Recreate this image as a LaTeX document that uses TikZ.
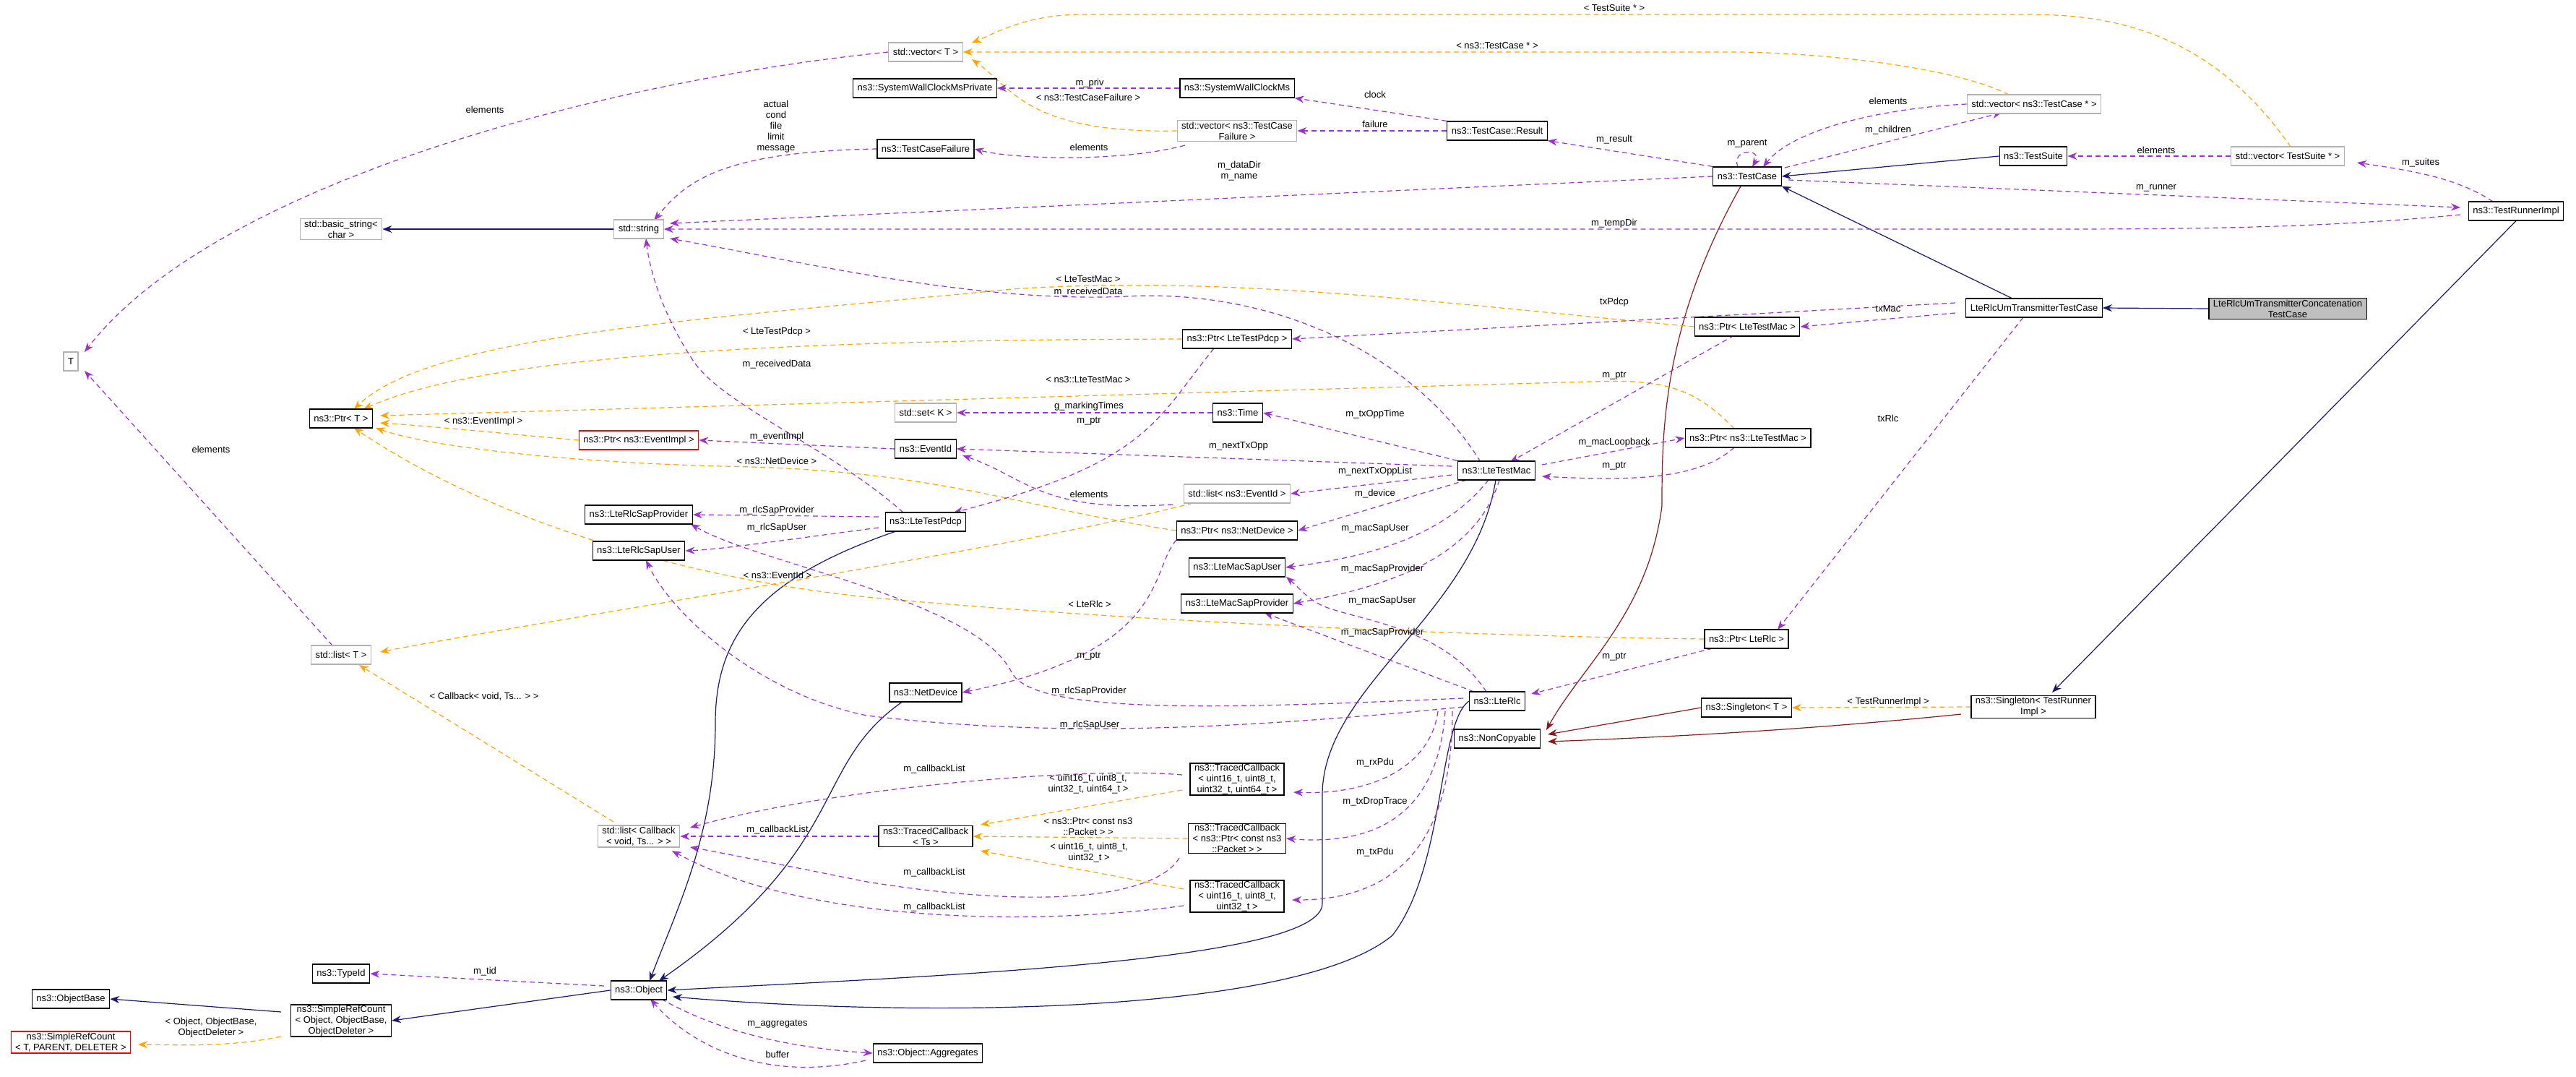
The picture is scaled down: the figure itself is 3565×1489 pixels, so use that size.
\documentclass[tikz,border=0pt]{standalone}
\usepackage{fontspec}
\setmainfont{Liberation Sans}
\usetikzlibrary{arrows.meta}
\pgfdeclarelayer{bg}
\pgfsetlayers{bg,main}
\definecolor{pu}{HTML}{9A32CD}
\definecolor{og}{HTML}{FFA500}
\definecolor{nv}{HTML}{191970}
\definecolor{dr}{HTML}{8B1A1A}
\tikzset{
 box/.style={draw=black,fill=white,line width=1.2pt,font=\fontsize{13}{15}\selectfont,inner xsep=6pt,inner ysep=2pt,minimum height=26pt,align=center},
 gbox/.style={box,draw=black!30},
 rbox/.style={box,draw=red},
 lbl/.style={font=\fontsize{13}{15}\selectfont,align=center,inner sep=1pt},
 usee/.style={draw=pu,dash pattern=on 7pt off 5pt,line width=1.2pt,-{Stealth[length=13pt,width=10pt]}},
 tmpl/.style={draw=og,dash pattern=on 7pt off 5pt,line width=1.2pt,-{Stealth[length=13pt,width=10pt]}},
 inh/.style={draw=nv,line width=1.2pt,-{Stealth[length=13pt,width=10pt]}},
 drh/.style={draw=dr,line width=1.2pt,-{Stealth[length=13pt,width=10pt]}},
}
\begin{document}
\begin{tikzpicture}[x=1pt,y=-1pt]
\useasboundingbox (0,0) rectangle (3565,1489);
% nodes
\node[gbox] (T) at (98,500) {T};
\node[gbox] (bstr) at (472,317) {std::basic\_string\textless\\char \textgreater};
\node[gbox] (str) at (884,317) {std::string};
\node[box] (ptrT) at (472,579) {ns3::Ptr\textless{} T \textgreater};
\node[rbox] (ptrEI) at (884,609) {ns3::Ptr\textless{} ns3::EventImpl \textgreater};
\node[box] (rsp) at (884,712) {ns3::LteRlcSapProvider};
\node[box] (rsu) at (884,762) {ns3::LteRlcSapUser};
\node[gbox] (listT) at (472,906) {std::list\textless{} T \textgreater};
\node[gbox] (listCB) at (884,1157) {std::list\textless{} Callback\\\textless{} void, Ts... \textgreater{} \textgreater};
\node[box] (tid) at (472,1347) {ns3::TypeId};
\node[box] (obj) at (884,1370) {ns3::Object};
\node[box] (ob) at (98,1382) {ns3::ObjectBase};
\node[box,inner ysep=1pt] (src) at (472,1412) {ns3::SimpleRefCount\\\textless{} Object, ObjectBase,\\ObjectDeleter \textgreater};
\node[rbox] (srcT) at (98,1442) {ns3::SimpleRefCount\\\textless{} T, PARENT, DELETER \textgreater};
\node[gbox] (vecT) at (1281,72) {std::vector\textless{} T \textgreater};
\node[box] (swcp) at (1280,122) {ns3::SystemWallClockMsPrivate};
\node[box] (swc) at (1712,122) {ns3::SystemWallClockMs};
\node[gbox] (vtcf) at (1712,181) {std::vector\textless{} ns3::TestCase\\Failure \textgreater};
\node[box] (tcf) at (1281,206) {ns3::TestCaseFailure};
\node[box] (res) at (2072,181) {ns3::TestCase::Result};
\node[box] (tc) at (2418,244) {ns3::TestCase};
\node[box] (ppdcp) at (1712,469) {ns3::Ptr\textless{} LteTestPdcp \textgreater};
\node[gbox] (setK) at (1281,571) {std::set\textless{} K \textgreater};
\node[box] (time) at (1713,571) {ns3::Time};
\node[box] (eid) at (1281,621) {ns3::EventId};
\node[box] (mac) at (2071,651) {ns3::LteTestMac};
\node[gbox] (leid) at (1712,683) {std::list\textless{} ns3::EventId \textgreater};
\node[box] (pdcp) at (1281,722) {ns3::LteTestPdcp};
\node[box] (pnd) at (1712,734) {ns3::Ptr\textless{} ns3::NetDevice \textgreater};
\node[box] (pmac) at (2418,452) {ns3::Ptr\textless{} LteTestMac \textgreater};
\node[box] (pmac2) at (2419,606) {ns3::Ptr\textless{} ns3::LteTestMac \textgreater};
\node[gbox] (vtc) at (2815,144) {std::vector\textless{} ns3::TestCase * \textgreater};
\node[box] (ts) at (2814,216) {ns3::TestSuite};
\node[gbox] (vts) at (3166,216) {std::vector\textless{} TestSuite * \textgreater};
\node[box] (tri) at (3482,292) {ns3::TestRunnerImpl};
\node[box] (lttc) at (2815,426) {LteRlcUmTransmitterTestCase};
\node[box,fill=black!25] (conc) at (3166,427) {LteRlcUmTransmitterConcatenation\\TestCase};
\node[box] (msu) at (1712,785) {ns3::LteMacSapUser};
\node[box] (msp) at (1712,835) {ns3::LteMacSapProvider};
\node[box] (nd) at (1281,958) {ns3::NetDevice};
\node[box] (rlc) at (2072,970) {ns3::LteRlc};
\node[box] (nc) at (2072,1022) {ns3::NonCopyable};
\node[box] (prlc) at (2417,884) {ns3::Ptr\textless{} LteRlc \textgreater};
\node[box] (sgT) at (2417,979) {ns3::Singleton\textless{} T \textgreater};
\node[box] (sgR) at (2814,978) {ns3::Singleton\textless{} TestRunner\\Impl \textgreater};
\node[box,inner ysep=1pt] (tc64) at (1712,1078) {ns3::TracedCallback\\\textless{} uint16\_t, uint8\_t,\\uint32\_t, uint64\_t \textgreater};
\node[box] (tcts) at (1281,1157) {ns3::TracedCallback\\\textless{} Ts \textgreater};
\node[box,inner ysep=1pt] (tcpk) at (1712,1160) {ns3::TracedCallback\\\textless{} ns3::Ptr\textless{} const ns3\\::Packet \textgreater{} \textgreater};
\node[box,inner ysep=1pt] (tc32) at (1712,1240) {ns3::TracedCallback\\\textless{} uint16\_t, uint8\_t,\\uint32\_t \textgreater};
\node[box] (agg) at (1284,1457) {ns3::Object::Aggregates};
\begin{pgfonlayer}{bg}
% inheritance
\draw[inh] (str.west) -- (bstr.east);
\draw[inh] (ts.west) -- (tc.east);
\draw[inh] (2785,413) -- (tc.south east);
\draw[inh] (conc.west) -- (lttc.east);
\draw[inh] (tri.south) -- (2840,958);
\draw[inh] (1240,735) .. controls (1050,800) and (990,880) .. (990,1000) .. controls (990,1150) and (940,1250) .. (899,1357);
\draw[inh] (1250,970) .. controls (1120,1060) and (1180,1170) .. (912,1357);
\draw[inh] (2070,664) .. controls (2040,850) and (1830,950) .. (1830,1100) -- (1830,1250) .. controls (1830,1330) and (1300,1350) .. (obj.east);
\draw[inh] (rlc.west) .. controls (1990,1000) and (2000,1200) .. (1927,1294) .. controls (1800,1400) and (1300,1410) .. (931,1379);
\draw[inh] (obj.west) -- (src.east);
\draw[inh] (389,1400) -- (ob.east);
\draw[drh] (2410,256) .. controls (2300,450) and (2300,600) .. (2300,700) .. controls (2280,850) and (2190,920) .. (2140,1010);
\draw[drh] (sgT.west) -- (2142,1016);
\draw[drh] (2714,988) .. controls (2500,1010) and (2300,1020) .. (2142,1026);
% templates
\draw[tmpl] (3170,203) .. controls (3050,30) and (2900,20) .. (2800,20) -- (1500,20) .. controls (1420,20) and (1380,45) .. (1345,59);
\draw[tmpl] (2780,131) .. controls (2700,90) and (2500,72) .. (2400,72) -- (vecT.east);
\draw[tmpl] (vtcf.west) .. controls (1420,185) and (1400,120) .. (1345,82);
\draw[tmpl] (pmac.west) .. controls (2000,420) and (1700,380) .. (1400,400) .. controls (1000,440) and (600,460) .. (490,566);
\draw[tmpl] (ppdcp.west) .. controls (1000,470) and (650,500) .. (503,566);
\draw[tmpl] (2400,593) .. controls (2340,530) and (2290,525) .. (2200,528) -- (526,575);
\draw[tmpl] (ptrEI.west) .. controls (700,600) and (600,590) .. (526,585);
\draw[tmpl] (pnd.west) .. controls (1400,700) and (1300,650) .. (1000,645) .. controls (800,640) and (600,620) .. (520,592);
\draw[tmpl] (prlc.west) .. controls (2000,880) and (1500,855) .. (1200,826) .. controls (900,795) and (650,700) .. (490,592);
\draw[tmpl] (1651,696) .. controls (1400,760) and (800,850) .. (526,902);
\draw[tmpl] (849,1137) -- (497,920);
\draw[tmpl] (1636,1093) -- (1357,1141);
\draw[tmpl] (tcpk.west) -- (tcts.east);
\draw[tmpl] (1638,1230) -- (1357,1177);
\draw[tmpl] (sgR.west) -- (sgT.east);
\draw[tmpl] (389,1434) .. controls (320,1448) and (260,1446) .. (191,1445);
% uses
\draw[usee] (vecT.west) .. controls (850,110) and (300,250) .. (117,487);
\draw[usee] (tcf.west) .. controls (1000,210) and (950,250) .. (905,305);
\draw[usee] (tc.west) -- (927,309);
\draw[usee] (3405,297) .. controls (3200,317) and (3000,317) .. (2800,317) -- (str.east);
\draw[usee] (2049,639) .. controls (1950,480) and (1750,400) .. (1560,410) .. controls (1350,420) and (1100,360) .. (927,330);
\draw[usee] (1250,709) .. controls (1150,620) and (1000,560) .. (960,500) .. controls (920,440) and (900,380) .. (894,330);
\draw[usee] (swc.west) -- (swcp.east);
\draw[usee] (res.north west) -- (swc.south east);
\draw[usee] (res.west) -- (vtcf.east);
\draw[usee] (1640,201) .. controls (1550,225) and (1400,220) .. (tcf.east);
\draw[usee] (tc.north west) -- (res.south east);
\draw[usee] (2405,231) .. controls (2395,205) and (2440,205) .. (2425,231);
\draw[usee] (vtc.west) .. controls (2600,150) and (2480,180) .. (2440,231);
\draw[usee] (2470,232) -- (2770,156);
\draw[usee] (vts.west) -- (ts.east);
\draw[usee] (3450,279) .. controls (3400,245) and (3330,235) .. (3262,225);
\draw[usee] (2475,249) -- (3405,287);
\draw[usee] (2706,419) -- (ppdcp.east);
\draw[usee] (2706,433) -- (pmac.east);
\draw[usee] (2800,439) -- (2460,871);
\draw[usee] (2400,464) -- (2090,639);
\draw[usee] (2134,643) -- (pmac2.west);
\draw[usee] (2400,619) .. controls (2350,665) and (2250,665) .. (2134,659);
\draw[usee] (1680,482) .. controls (1600,580) and (1590,640) .. (1320,709);
\draw[usee] (time.west) -- (setK.east);
\draw[usee] (mac.north west) -- (time.east);
\draw[usee] (2009,645) -- (eid.east);
\draw[usee] (eid.west) -- (ptrEI.east);
\draw[usee] (2009,657) -- (leid.east);
\draw[usee] (1623,698) .. controls (1440,710) and (1420,660) .. (1332,630);
\draw[usee] (2030,664) -- (pnd.east);
\draw[usee] (1628,747) .. controls (1590,790) and (1620,900) .. (nd.east);
\draw[usee] (2060,664) .. controls (2000,740) and (1900,770) .. (msu.east);
\draw[usee] (2075,664) .. controls (2040,780) and (1900,815) .. (msp.east);
\draw[usee] (2057,957) .. controls (2000,870) and (1890,860) .. (1835,840) .. controls (1810,830) and (1800,815) .. (1780,798);
\draw[usee] (2040,957) -- (1750,848);
\draw[usee] (1216,715) -- (rsp.east);
\draw[usee] (1216,730) .. controls (1100,745) and (1000,760) .. (rsu.east);
\draw[usee] (2025,966) .. controls (1700,980) and (1430,990) .. (1400,930) .. controls (1350,830) and (1050,780) .. (956,725);
\draw[usee] (2025,978) .. controls (1700,1010) and (1450,1020) .. (1200,990) .. controls (1050,960) and (930,850) .. (894,775);
\draw[usee] (2370,897) -- (2119,960);
\draw[usee] (1990,984) .. controls (1980,1060) and (1900,1100) .. (1790,1096);
\draw[usee] (2000,984) .. controls (1990,1130) and (1900,1170) .. (tcpk.east);
\draw[usee] (2010,984) .. controls (2010,1200) and (1900,1245) .. (1788,1245);
\draw[usee] (1636,1072) .. controls (1500,1060) and (1150,1090) .. (955,1145);
\draw[usee] (tcts.west) -- (listCB.east);
\draw[usee] (1632,1187) .. controls (1600,1240) and (1450,1260) .. (1200,1220) .. controls (1100,1200) and (1000,1180) .. (955,1172);
\draw[usee] (1638,1253) .. controls (1400,1285) and (1100,1270) .. (930,1177);
\draw[usee] (460,893) -- (117,513);
\draw[usee] (836,1364) -- (tid.east);
\draw[usee] (915,1382) .. controls (1000,1430) and (1100,1450) .. (agg.west);
\draw[usee] (1198,1467) .. controls (1050,1500) and (950,1440) .. (900,1382);
\end{pgfonlayer}
% labels
\node[lbl] at (671,152) {elements};
\node[lbl] at (292,622) {elements};
\node[lbl] at (1074,175) {actual\\cond\\file\\limit\\message};
\node[lbl] at (1075,459) {\textless{} LteTestPdcp \textgreater};
\node[lbl] at (1075,504) {m\_receivedData};
\node[lbl] at (669,583) {\textless{} ns3::EventImpl \textgreater};
\node[lbl] at (1075,604) {m\_eventImpl};
\node[lbl] at (1075,638) {\textless{} ns3::NetDevice \textgreater};
\node[lbl] at (1075,706) {m\_rlcSapProvider};
\node[lbl] at (1075,730) {m\_rlcSapUser};
\node[lbl] at (2234,11) {\textless{} TestSuite * \textgreater};
\node[lbl] at (2072,63) {\textless{} ns3::TestCase * \textgreater};
\node[lbl] at (1508,115) {m\_priv};
\node[lbl] at (1506,135) {\textless{} ns3::TestCaseFailure \textgreater};
\node[lbl] at (1903,131) {clock};
\node[lbl] at (1903,172) {failure};
\node[lbl] at (1507,204) {elements};
\node[lbl] at (2234,193) {m\_result};
\node[lbl] at (1715,237) {m\_dataDir\\m\_name};
\node[lbl] at (2234,309) {m\_tempDir};
\node[lbl] at (1506,386) {\textless{} LteTestMac \textgreater};
\node[lbl] at (1506,404) {m\_receivedData};
\node[lbl] at (2234,418) {txPdcp};
\node[lbl] at (1506,525) {\textless{} ns3::LteTestMac \textgreater};
\node[lbl] at (2234,520) {m\_ptr};
\node[lbl] at (1507,562) {g\_markingTimes};
\node[lbl] at (1507,583) {m\_ptr};
\node[lbl] at (1903,573) {m\_txOppTime};
\node[lbl] at (1714,617) {m\_nextTxOpp};
\node[lbl] at (2234,612) {m\_macLoopback};
\node[lbl] at (2234,645) {m\_ptr};
\node[lbl] at (1903,652) {m\_nextTxOppList};
\node[lbl] at (1507,684) {elements};
\node[lbl] at (1903,683) {m\_device};
\node[lbl] at (1903,731) {m\_macSapUser};
\node[lbl] at (2613,140) {elements};
\node[lbl] at (2613,180) {m\_children};
\node[lbl] at (2418,199) {m\_parent};
\node[lbl] at (2984,208) {elements};
\node[lbl] at (3350,225) {m\_suites};
\node[lbl] at (2984,260) {m\_runner};
\node[lbl] at (2613,427) {txMac};
\node[lbl] at (2613,579) {txRlc};
\node[lbl] at (1076,796) {\textless{} ns3::EventId \textgreater};
\node[lbl] at (670,964) {\textless{} Callback\textless{} void, Ts... \textgreater{} \textgreater};
\node[lbl] at (1076,1148) {m\_callbackList};
\node[lbl] at (671,1344) {m\_tid};
\node[lbl] at (292,1422) {\textless{} Object, ObjectBase,\\ObjectDeleter \textgreater};
\node[lbl] at (1076,1417) {m\_aggregates};
\node[lbl] at (1076,1459) {buffer};
\node[lbl] at (1913,787) {m\_macSapProvider};
\node[lbl] at (1508,836) {\textless{} LteRlc \textgreater};
\node[lbl] at (1913,831) {m\_macSapUser};
\node[lbl] at (1913,875) {m\_macSapProvider};
\node[lbl] at (1507,908) {m\_ptr};
\node[lbl] at (2234,909) {m\_ptr};
\node[lbl] at (1507,956) {m\_rlcSapProvider};
\node[lbl] at (1508,1003) {m\_rlcSapUser};
\node[lbl] at (1293,1064) {m\_callbackList};
\node[lbl] at (1506,1085) {\textless{} uint16\_t, uint8\_t,\\uint32\_t, uint64\_t \textgreater};
\node[lbl] at (1903,1055) {m\_rxPdu};
\node[lbl] at (1506,1144) {\textless{} ns3::Ptr\textless{} const ns3\\::Packet \textgreater{} \textgreater};
\node[lbl] at (1903,1109) {m\_txDropTrace};
\node[lbl] at (1507,1180) {\textless{} uint16\_t, uint8\_t,\\uint32\_t \textgreater};
\node[lbl] at (1903,1179) {m\_txPdu};
\node[lbl] at (1293,1207) {m\_callbackList};
\node[lbl] at (1293,1255) {m\_callbackList};
\node[lbl] at (2613,971) {\textless{} TestRunnerImpl \textgreater};
\end{tikzpicture}
\end{document}
